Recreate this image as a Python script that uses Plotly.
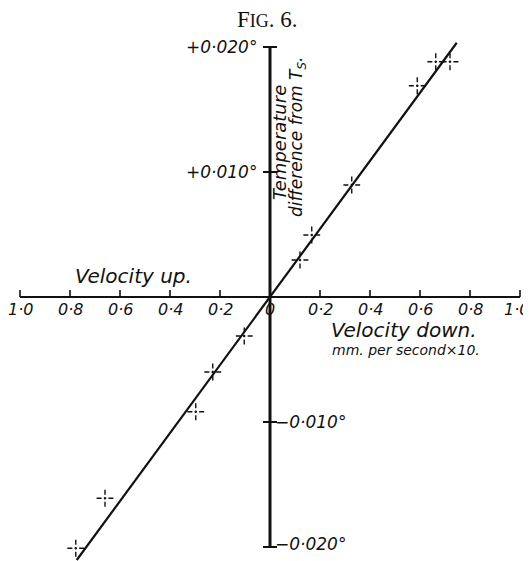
import plotly.graph_objects as go

# readings: velocity (mm/s x10, down positive) vs temperature difference
vel = [0.663, 0.72, 0.589, 0.327, 0.167, 0.12, -0.103, -0.229, -0.297, -0.66, -0.777]
temp = [0.01882, 0.01882, 0.0169, 0.00896, 0.00496, 0.00296, -0.00312, -0.0060, -0.00918, -0.0161, -0.0201]

fit_x = [-0.773, 0.747]
fit_y = [-0.02104, 0.02034]

x_ticks = [-1.0, -0.8, -0.6, -0.4, -0.2, 0.0, 0.2, 0.4, 0.6, 0.8, 1.0]
x_tick_text = ["1·0", "0·8", "0·6", "0·4", "0·2", "0", "0·2", "0·4", "0·6", "0·8", "1·0"]
y_ticks = [0.02, 0.01, -0.01, -0.02]
y_tick_text = ["+0·020°", "+0·010°", "−0·010°", "−0·020°"]

# the page body has an 8px margin, so the figure is made that much smaller
PAGE_MARGIN = 8
W, H = 531 - PAGE_MARGIN, 561 - PAGE_MARGIN
X0_PX, Y0_PX = 270 - PAGE_MARGIN, 297 - PAGE_MARGIN  # origin inside the figure
X_SCALE = 250  # px per unit velocity
Y_SCALE = 12500  # px per degree
x_range = [-X0_PX / X_SCALE, (W - X0_PX) / X_SCALE]
y_range = [(Y0_PX - H) / Y_SCALE, Y0_PX / Y_SCALE]


# helpers: window pixel -> data coordinate (for placing labels)
def px_x(p):
    return (p - PAGE_MARGIN - X0_PX) / X_SCALE


def px_y(p):
    return (Y0_PX - (p - PAGE_MARGIN)) / Y_SCALE


FONT = "DejaVu Sans"
INK = "#111111"

fig = go.Figure()

# main axes
fig.add_trace(go.Scatter(x=[x_ticks[0], x_ticks[-1]], y=[0, 0], mode="lines",
                         line=dict(color=INK, width=2), hoverinfo="skip"))
fig.add_trace(go.Scatter(x=[0, 0], y=[y_ticks[-1], y_ticks[0]], mode="lines",
                         line=dict(color=INK, width=3), hoverinfo="skip"))
fig.add_trace(go.Scatter(x=[0] * len(y_ticks), y=y_ticks, mode="markers",
                         marker=dict(symbol="line-ew", size=10,
                                     line=dict(color=INK, width=2)),
                         hoverinfo="skip"))

# fitted line
fig.add_trace(go.Scatter(x=fit_x, y=fit_y, mode="lines",
                         line=dict(color=INK, width=2.2), hoverinfo="skip"))

# dashed crosses, each arm drawn outward from the point
ARM = 8.5  # px
cx, cy = [], []
for x, y in zip(vel, temp):
    dx = ARM / X_SCALE
    dy = ARM / Y_SCALE
    for ex, ey in [(x - dx, y), (x + dx, y), (x, y - dy), (x, y + dy)]:
        cx += [x, ex, None]
        cy += [y, ey, None]
fig.add_trace(go.Scatter(x=cx, y=cy, mode="lines", connectgaps=False,
                         line=dict(color=INK, width=1.4, dash="1.2px,2.2px,5px,40px"),
                         hoverinfo="skip"))

# x ticks (upward)
for t in x_ticks:
    if t == 0:
        continue
    fig.add_shape(type="line", xref="x", yref="y", x0=t, x1=t,
                  ysizemode="pixel", yanchor=0, y0=0, y1=7,
                  line=dict(color=INK, width=1.6))

annotations = []
for i, (t, lab) in enumerate(zip(x_ticks, x_tick_text)):
    annotations.append(dict(x=t, y=px_y(309), text=f"<i>{lab}</i>",
                            xanchor="center", yanchor="middle",
                            xshift=-4 if i == len(x_ticks) - 1 else 0,
                            font=dict(size=16)))
for t, lab in zip(y_ticks, y_tick_text):
    left = t > 0
    annotations.append(dict(x=px_x(259) if left else px_x(273),
                            y=t, text=f"<i>{lab}</i>",
                            xanchor="right" if left else "left", yanchor="middle",
                            yshift=3 if t < -0.015 else 0,
                            font=dict(size=17)))

annotations += [
    dict(x=px_x(267), y=px_y(19),
         text="F<span style='font-size:18px'>IG</span>. 6.",
         font=dict(family="Liberation Serif", size=23)),
    dict(x=px_x(279), y=px_y(143), text="<i>Temperature</i>", textangle=-90,
         font=dict(size=18)),
    dict(x=px_x(297), y=px_y(137), text="<i>difference from T<sub>S</sub>.</i>", textangle=-90,
         font=dict(size=17)),
    dict(x=px_x(133), y=px_y(276), text="<i>Velocity up.</i>", font=dict(size=20)),
    dict(x=px_x(404), y=px_y(330), text="<i>Velocity down.</i>", font=dict(size=20)),
    dict(x=px_x(406), y=px_y(350), text="<i>mm. per second×10.</i>", font=dict(size=14)),
]
for a in annotations:
    a.setdefault("showarrow", False)
    a["font"].setdefault("family", FONT)
    a["font"]["color"] = INK

fig.update_layout(
    width=W, height=H,
    margin=dict(l=0, r=0, t=0, b=0),
    paper_bgcolor="white", plot_bgcolor="white",
    showlegend=False,
    xaxis=dict(range=x_range, visible=False, fixedrange=True),
    yaxis=dict(range=y_range, visible=False, fixedrange=True),
    annotations=annotations,
)

fig.write_html("out.html")
